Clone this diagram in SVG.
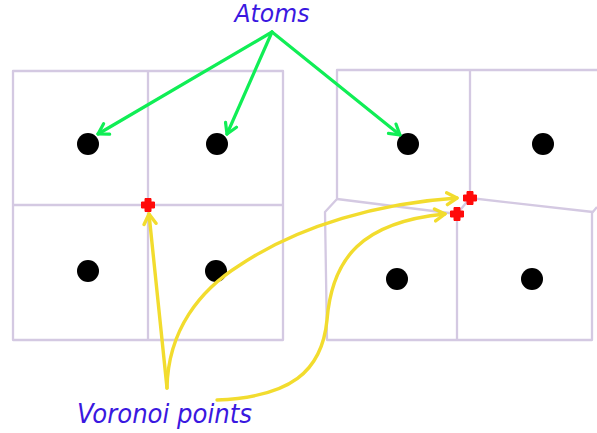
<svg xmlns="http://www.w3.org/2000/svg" width="597" height="433" viewBox="0 0 597 433">
<style>
.cell{fill:none;stroke:#d4c9e2;stroke-width:2.3;stroke-linejoin:round}
.atom{fill:#000}
.vp{fill:#ff0a0a;stroke:#ff0a0a;stroke-width:1;stroke-linejoin:round}
.g{fill:none;stroke:#10ee55;stroke-width:3.2;stroke-linecap:round}
.y{fill:none;stroke:#f2dc2e;stroke-width:3.4;stroke-linecap:round}
.lbl{font-family:"DejaVu Sans",sans-serif;font-style:italic;fill:#3a18e0}
</style>
<defs>
<marker id="ag" viewBox="-12 -8 14 16" markerWidth="14" markerHeight="16" refX="0" refY="0" orient="auto" markerUnits="userSpaceOnUse">
<polyline points="-10,-6 0,0 -10,6" fill="none" stroke="#10ee55" stroke-width="3.2" stroke-linecap="round" stroke-linejoin="round"/>
</marker>
<marker id="ay" viewBox="-12 -8 14 16" markerWidth="14" markerHeight="16" refX="0" refY="0" orient="auto" markerUnits="userSpaceOnUse">
<polyline points="-10,-6 0,0 -10,6" fill="none" stroke="#f2dc2e" stroke-width="3.4" stroke-linecap="round" stroke-linejoin="round"/>
</marker>
<path id="cross" d="M-3,-6.5 H3 V-3 H6.5 V3 H3 V6.5 H-3 V3 H-6.5 V-3 H-3 Z"/>
</defs>
<rect width="597" height="433" fill="#fff"/>
<g id="left-cells">
<rect class="cell" x="13" y="71" width="270" height="269"/>
<line class="cell" x1="148" y1="71" x2="148" y2="340"/>
<line class="cell" x1="13" y1="205" x2="283" y2="205"/>
</g>
<g id="right-cells">
<path class="cell" d="M597,70 H337 V199 L325,212 L327,340 H592 V213 L597,207"/>
<path class="cell" d="M470,70 V198 L593,212"/>
<path class="cell" d="M337,199 L457,214 L470,198"/>
<path class="cell" d="M457,214 V340"/>
</g>
<g id="atoms">
<circle class="atom" cx="88" cy="144" r="11"/>
<circle class="atom" cx="217" cy="144" r="11"/>
<circle class="atom" cx="88" cy="271" r="11"/>
<circle class="atom" cx="216" cy="271" r="11"/>
<circle class="atom" cx="408" cy="144" r="11"/>
<circle class="atom" cx="543" cy="144" r="11"/>
<circle class="atom" cx="397" cy="279" r="11"/>
<circle class="atom" cx="532" cy="279" r="11"/>
</g>
<g id="voronoi-points">
<use href="#cross" class="vp" x="148" y="205"/>
<use href="#cross" class="vp" x="470" y="198"/>
<use href="#cross" class="vp" x="457" y="214"/>
</g>
<g id="connectors">
<line class="g" x1="272" y1="32" x2="98" y2="134" marker-end="url(#ag)"/>
<line class="g" x1="272" y1="32" x2="227" y2="134" marker-end="url(#ag)"/>
<line class="g" x1="272" y1="32" x2="400" y2="135" marker-end="url(#ag)"/>
<line class="y" x1="167" y1="388" x2="149" y2="214" marker-end="url(#ay)"/>
<path class="y" d="M167,388 C168,330 200,290 240,265 C300,225 380,203 457,198" marker-end="url(#ay)"/>
<path class="y" d="M217,400 C290,397 322,372 327,320 C332,258 362,222 445,214" marker-end="url(#ay)"/>
</g>
<g id="labels">
<text class="lbl" x="272" y="22" font-size="24" text-anchor="middle" textLength="75" lengthAdjust="spacingAndGlyphs">Atoms</text>
<text class="lbl" x="77" y="423" font-size="26" textLength="175" lengthAdjust="spacingAndGlyphs">Voronoi points</text>
</g>
</svg>
